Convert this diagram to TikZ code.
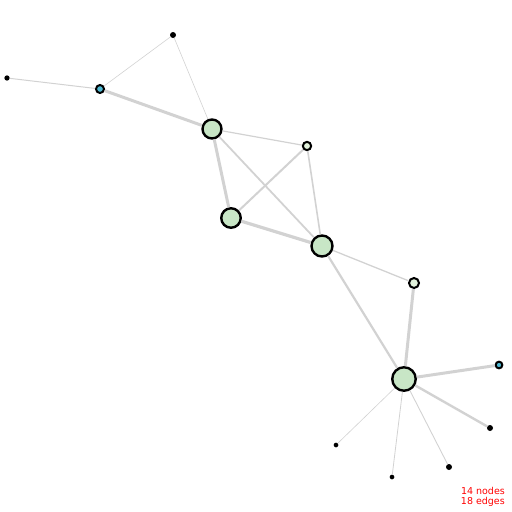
\documentclass[tikz,border=0pt]{standalone}
\usepackage{fontspec}
\setmainfont{DejaVu Sans}
\definecolor{hubgreen}{HTML}{C8E6C6}
\definecolor{palegreen}{HTML}{E2F2DC}
\definecolor{leafblue}{HTML}{4FB8D2}
\definecolor{edgegray}{HTML}{D2D2D2}
\tikzset{
  hub/.style={circle, draw=black, line width=2.4pt, fill=hubgreen, inner sep=0pt},
  mid/.style={circle, draw=black, line width=2pt, fill=palegreen, inner sep=0pt},
  tip/.style={circle, draw=black, line width=2pt, fill=leafblue, inner sep=0pt},
  leaf/.style={circle, fill=black, inner sep=0pt},
  link/.style={draw=edgegray, line width=#1},
}
\begin{document}
\begin{tikzpicture}[x=1pt, y=-1pt]
		%%%%% START %%%%%
		\useasboundingbox (0, 0) rectangle (512, 512);
		
		\node[leaf, minimum size=6pt] (top) at (173, 35) {};
		\node[leaf, minimum size=5.3pt] (far) at (7, 78) {};
		\node[tip, minimum size=8pt] (west) at (100, 89) {};
		\node[hub, minimum size=19pt] (a) at (212, 129) {};
		\node[mid, minimum size=8.3pt] (ne) at (307, 146) {};
		\node[hub, minimum size=19.5pt] (b) at (231, 218) {};
		\node[hub, minimum size=21pt] (c) at (322, 246) {};
		\node[mid, minimum size=10pt] (e) at (414, 283) {};
		\node[hub, minimum size=23.5pt] (d) at (404, 379) {};
		\node[tip, minimum size=6.7pt] (east) at (499, 365) {};
		\node[leaf, minimum size=6pt] (se) at (490, 428) {};
		\node[leaf, minimum size=4.7pt] (sw) at (336, 445) {};
		\node[leaf, minimum size=6pt] (s1) at (449, 467) {};
		\node[leaf, minimum size=4.7pt] (s2) at (392, 477) {};
		
		\draw[link=0.6pt] (top) -- (west);
		\draw[link=0.6pt] (top) -- (a);
		\draw[link=1pt] (far) -- (west);
		\draw[link=3pt] (west) -- (a);
		\draw[link=1.2pt] (a) -- (ne);
		\draw[link=3pt] (a) -- (b);
		\draw[link=1.8pt] (a) -- (c);
		\draw[link=2pt] (ne) -- (b);
		\draw[link=1.6pt] (ne) -- (c);
		\draw[link=3.2pt] (b) -- (c);
		\draw[link=1.3pt] (c) -- (e);
		\draw[link=2.2pt] (c) -- (d);
		\draw[link=3pt] (e) -- (d);
		\draw[link=3pt] (d) -- (east);
		\draw[link=2.4pt] (d) -- (se);
		\draw[link=0.6pt] (d) -- (sw);
		\draw[link=0.9pt] (d) -- (s1);
		\draw[link=0.8pt] (d) -- (s2);
		
		\node[red, font=\fontsize{9.5}{10.5}\selectfont, align=right, anchor=east, inner sep=0pt] (count) at (505, 497) {14 nodes\\18 edges};
		%%%%% END %%%%%
	\end{tikzpicture}
\end{document}
